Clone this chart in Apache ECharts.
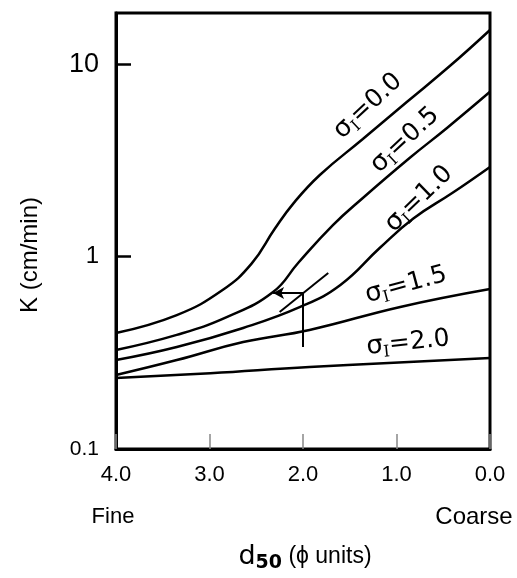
<!DOCTYPE html>
<html>
<head>
<meta charset="utf-8">
<script src="https://cdn.jsdelivr.net/npm/echarts@6/dist/echarts.min.js"></script>
<style>
  html, body { margin: 0; padding: 0; background: #fff; }
  #chart { width: 517px; height: 578px; }
</style>
</head>
<body>
<div id="chart"></div>
<script>
// median grain size d50 (phi units) vs K (cm/min), one curve per sorting sigma_I
const xTicks = [4, 3, 2, 1, 0]
const yTickLabels = { '0.1': 'small', '1': 'mid', '10': 'big' }
const sigmaLabels = ['0.0', '0.5', '1.0', '1.5', '2.0']

const sigma00 = [[4.0, 0.401], [3.35, 0.497], [2.86, 0.671], [2.55, 0.92], [2.3, 1.4], [2.1, 1.9],
  [1.82, 2.66], [1.36, 4.09], [0.89, 6.37], [0.43, 9.8], [0, 15.1]]
const sigma05 = [[4.0, 0.327], [3.35, 0.392], [2.81, 0.486], [2.32, 0.655], [2.05, 0.93], [1.68, 1.46],
  [1.36, 2.02], [0.86, 3.26], [0.46, 4.67], [0, 7.2]]
const sigma10 = [[4.0, 0.29], [3.35, 0.339], [2.64, 0.426], [2.03, 0.548], [1.6, 0.713],
  [1.18, 1.11], [0.82, 1.58], [0.4, 2.15], [0, 2.93]]
const sigma15 = [[4.0, 0.2425], [3.35, 0.29], [2.64, 0.36], [1.93, 0.416], [0.96, 0.548], [0, 0.679]]
const sigma20 = [[4.0, 0.234], [2.99, 0.248], [1.93, 0.267], [0, 0.297]]

// reading guide at d50 = 2.0
const guideVertical = [[2.0, 0.339], [2.0, 0.647]]
const guideArrow = [[2.0, 0.647], [2.32, 0.647]]
const guideTangent = [[2.25, 0.516], [1.73, 0.823]]

const curves = [sigma00, sigma05, sigma10, sigma15, sigma20]

const chart = echarts.init(document.getElementById('chart'))

const lineStyle = { color: '#000', width: 2.5 }
const series = curves.map((data, i) => ({
  name: 'sigma ' + sigmaLabels[i],
  type: 'line',
  data,
  smooth: 0.45,
  symbol: 'none',
  lineStyle,
  z: 3,
}))

series[4].markLine = {
  silent: true,
  symbol: 'none',
  animation: false,
  label: { show: false },
  lineStyle: { color: '#000', width: 2, type: 'solid' },
  data: [
    [{ coord: guideVertical[0] }, { coord: guideVertical[1] }],
    [{ coord: guideArrow[0] }, { coord: guideArrow[1], symbol: 'arrow', symbolSize: [9, 11] }],
    [{ coord: guideTangent[0] }, { coord: guideTangent[1] }],
  ],
}

const sigmaRich = {
  s: { fontSize: 26, fontFamily: 'DejaVu Sans', color: '#000', lineHeight: 30 },
  i: { fontSize: 16, fontFamily: 'DejaVu Serif', color: '#000', verticalAlign: 'bottom', lineHeight: 22 },
  t: { fontSize: 25, fontFamily: 'DejaVu Sans', color: '#000', lineHeight: 30 },
}

// label anchor, rotation in degrees
const labelPlaces = [
  [368, 106, 43],
  [405, 140, 43],
  [419, 199, 44],
  [406, 285, 15],
  [408, 343, 6],
]

const graphic = sigmaLabels.map((lab, i) => ({
  type: 'text',
  x: labelPlaces[i][0],
  y: labelPlaces[i][1],
  rotation: (labelPlaces[i][2] * Math.PI) / 180,
  style: {
    text: '{s|σ}{i|I}{t|=' + lab + '}',
    rich: sigmaRich,
    align: 'center',
    verticalAlign: 'middle',
  },
}))

graphic.push(
  {
    type: 'text', x: 30, y: 255, rotation: Math.PI / 2,
    style: { text: 'K (cm/min)', fontSize: 24, fontFamily: 'Liberation Sans', fill: '#000', align: 'center', verticalAlign: 'middle' },
  },
  {
    type: 'text', x: 113, y: 517,
    style: { text: 'Fine', fontSize: 22, fontFamily: 'Liberation Sans', fill: '#000', align: 'center', verticalAlign: 'middle' },
  },
  {
    type: 'text', x: 474, y: 517,
    style: { text: 'Coarse', fontSize: 24, fontFamily: 'Liberation Sans', fill: '#000', align: 'center', verticalAlign: 'middle' },
  },
  {
    type: 'text', x: 305, y: 557,
    style: {
      text: '{d|d}{n|50}{t| (ϕ units)}',
      align: 'center',
      verticalAlign: 'middle',
      rich: {
        d: { fontSize: 27, fontFamily: 'DejaVu Sans', color: '#000', lineHeight: 32 },
        n: { fontSize: 19, fontWeight: 'bold', fontFamily: 'DejaVu Sans', color: '#000', verticalAlign: 'bottom', lineHeight: 24 },
        t: { fontSize: 23, fontFamily: 'Liberation Sans', color: '#000', lineHeight: 32 },
      },
    },
  },
)

chart.setOption({
  animation: false,
  backgroundColor: '#fff',
  grid: { left: 116, right: 27, top: 13, bottom: 129, show: true, borderColor: '#000', borderWidth: 3 },
  xAxis: {
    type: 'value',
    min: 0,
    max: 4,
    interval: 1,
    inverse: true,
    axisLine: { onZero: false, lineStyle: { color: '#000', width: 3 } },
    axisTick: { inside: true, length: 15, lineStyle: { color: '#888', width: 1.5 } },
    splitLine: { show: false },
    axisLabel: {
      margin: 15,
      fontSize: 22,
      fontFamily: 'Liberation Sans',
      color: '#000',
      formatter: (v) => (xTicks.includes(v) ? v.toFixed(1) : ''),
    },
  },
  yAxis: {
    type: 'log',
    logBase: 10,
    min: 0.1,
    max: 18.5,
    axisLine: { show: true, onZero: false, lineStyle: { color: '#000', width: 3 } },
    axisTick: { show: true, inside: true, length: 15, lineStyle: { color: '#000', width: 2.5 } },
    splitLine: { show: false },
    axisLabel: {
      margin: 17,
      color: '#000',
      showMaxLabel: false,
      formatter: (v) => {
        const l = Math.log10(v)
        if (Math.abs(l - Math.round(l)) > 1e-6) return ''
        const txt = String(+v.toPrecision(3))
        return '{' + (yTickLabels[txt] || 'mid') + '|' + txt + '}'
      },
      rich: {
        big: { fontSize: 27, fontFamily: 'Liberation Sans', color: '#000' },
        mid: { fontSize: 24, fontFamily: 'Liberation Sans', color: '#000' },
        small: { fontSize: 21, fontFamily: 'Liberation Sans', color: '#000' },
      },
    },
  },
  graphic,
  series,
})
</script>
</body>
</html>
